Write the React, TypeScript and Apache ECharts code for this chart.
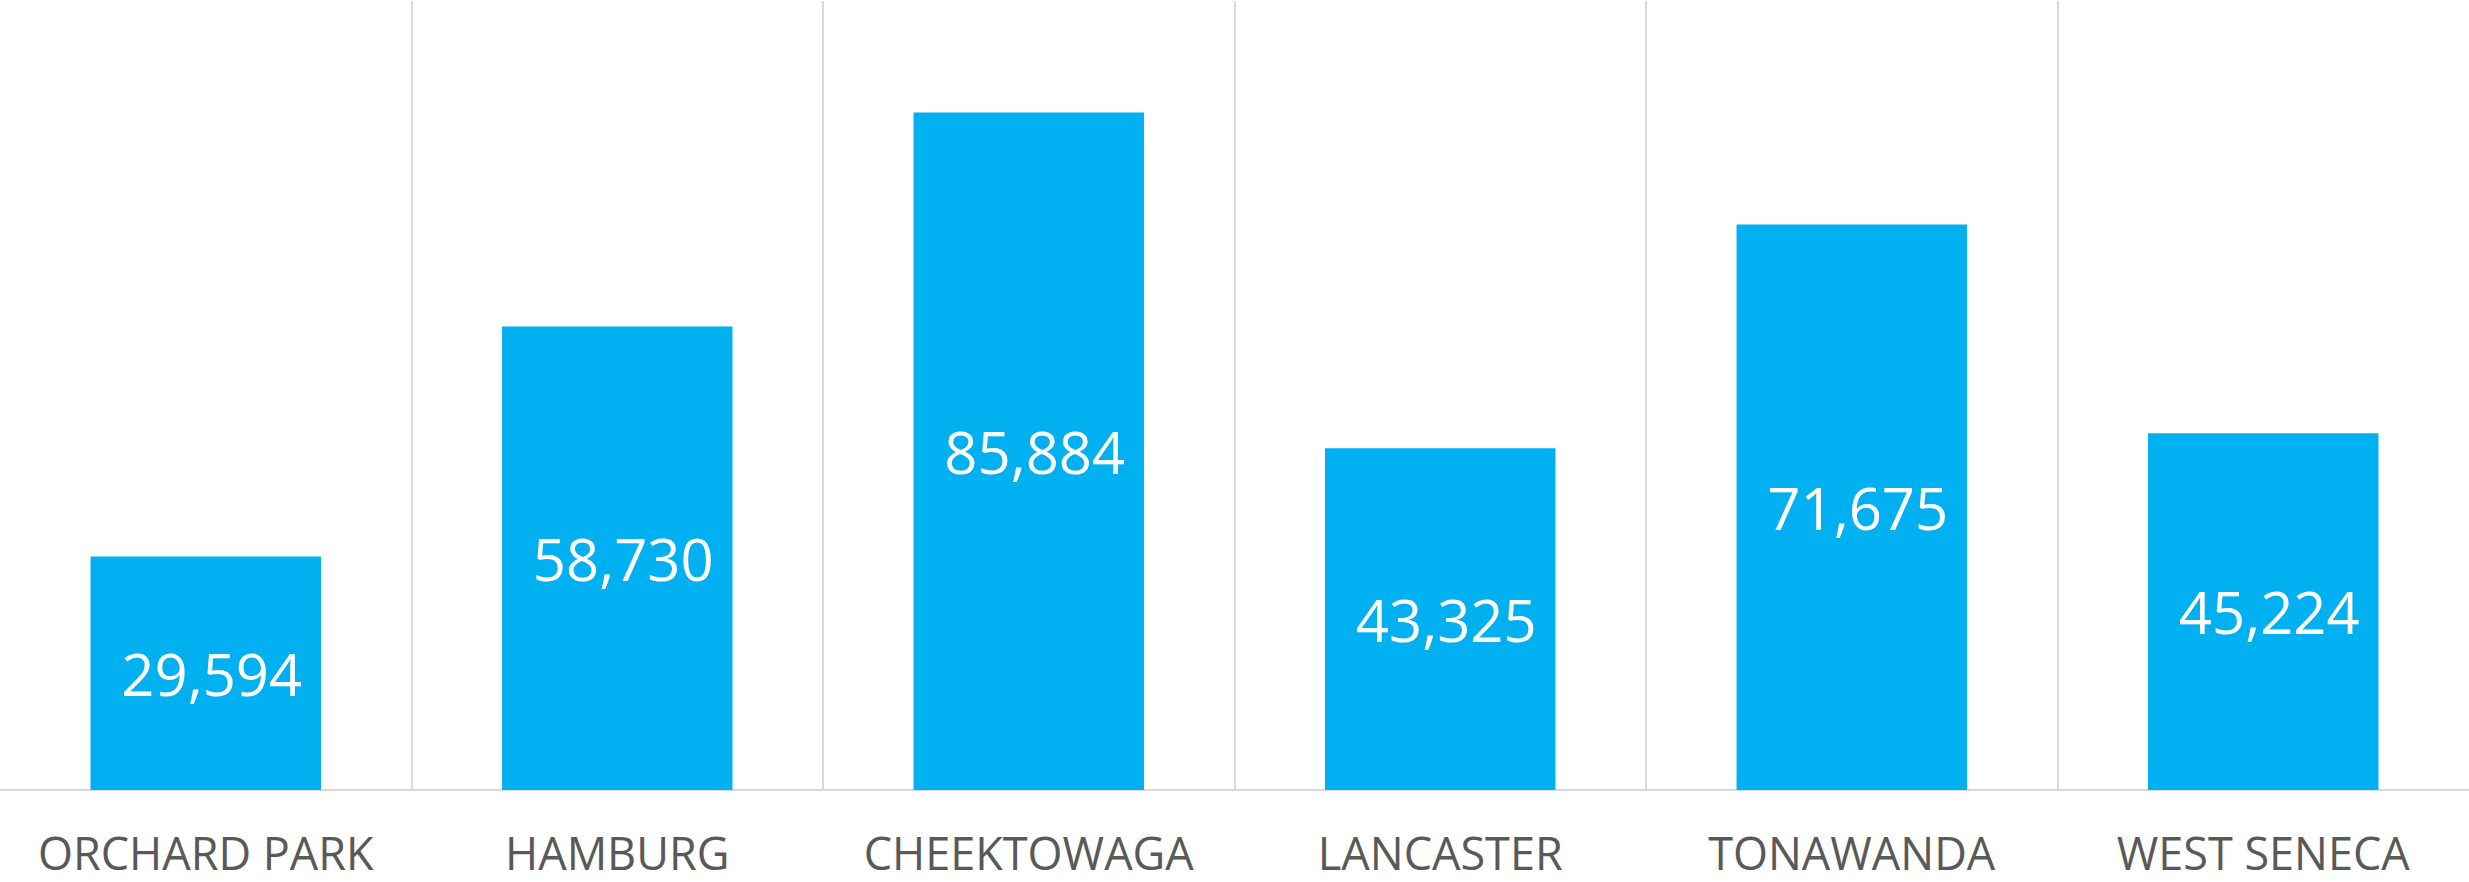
import React, { useEffect, useRef } from "react";
import * as echarts from "echarts";

const categories = ["ORCHARD PARK", "HAMBURG", "CHEEKTOWAGA", "LANCASTER", "TONAWANDA", "WEST SENECA"];
const values = [29594, 58730, 85884, 43325, 71675, 45224];
const axisMax = 100000;

export default function App() {
  const ref = useRef<HTMLDivElement>(null);
  useEffect(() => {
    document.body.style.margin = "0";
    const chart = echarts.init(ref.current!, null, { renderer: "svg" });
    chart.setOption({
      animation: false,
      backgroundColor: "#ffffff",
      grid: { left: 0, right: 0, top: 1, bottom: 92, containLabel: false },
      xAxis: {
        type: "category",
        data: categories,
        boundaryGap: true,
        axisTick: { show: false },
        axisLine: { show: true, lineStyle: { color: "#d9d9d9", width: 2 } },
        axisLabel: {
          interval: 0,
          margin: 44,
          color: "#595959",
          fontFamily: "Open Sans",
          fontSize: 45,
          lineHeight: 36,
        },
        splitLine: {
          show: true,
          interval: 0,
          showMinLine: false,
          showMaxLine: false,
          lineStyle: { color: "#d9d9d9", width: 2 },
        },
      },
      yAxis: {
        type: "value",
        min: 0,
        max: axisMax,
        show: false,
        splitLine: { show: false },
      },
      series: [
        {
          type: "bar",
          data: values,
          barWidth: "56%",
          itemStyle: { color: "#00b0f0" },
          label: {
            show: true,
            position: "inside",
            offset: [6, 0],
            color: "#ffffff",
            fontFamily: "Open Sans",
            fontSize: 58,
            formatter: (p: any) => Number(p.value).toLocaleString("en-US"),
          },
        },
      ],
    });
    return () => chart.dispose();
  }, []);
  return (
    <div
      ref={ref}
      style={{ position: "fixed", left: 0, top: 0, width: 2469, height: 882 }}
    />
  );
}
